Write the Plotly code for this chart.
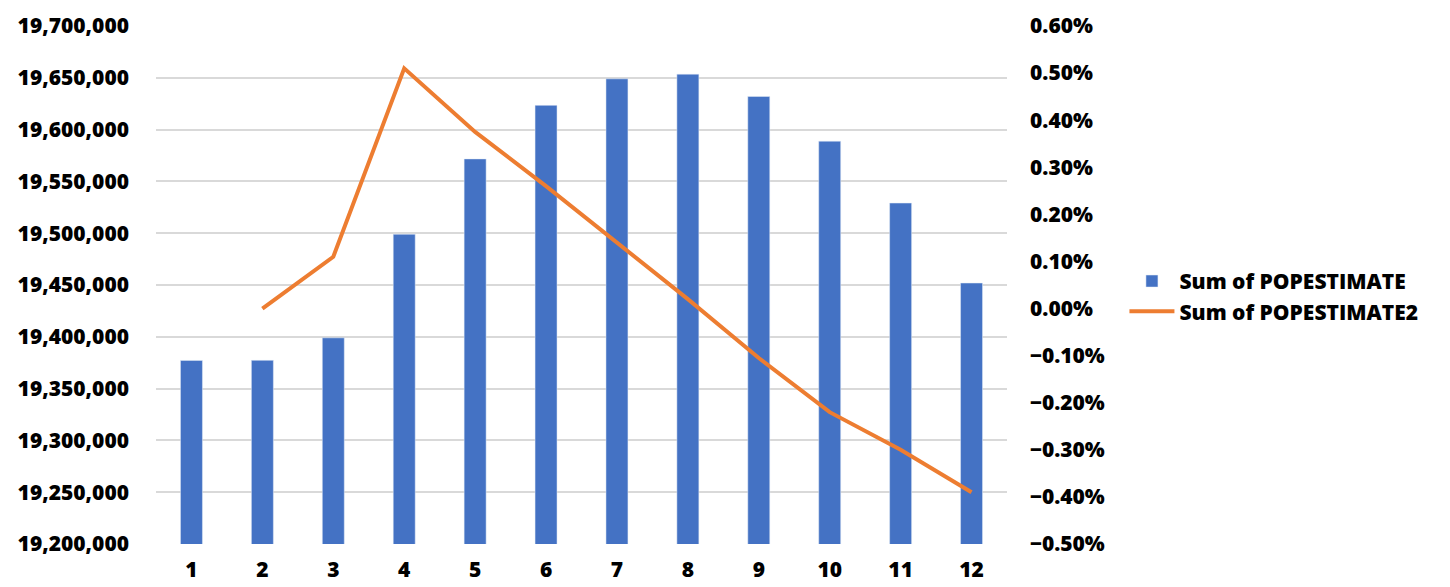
import plotly.graph_objects as go

months = [1, 2, 3, 4, 5, 6, 7, 8, 9, 10, 11, 12]
popestimate = [19377200, 19377300, 19399000, 19499000, 19571700, 19623400,
               19649000, 19653500, 19632000, 19588800, 19529100, 19451900]
# month-over-month change, no value for the first month
popestimate2 = [None, 0.0000, 0.0011, 0.0051, 0.00375, 0.0026,
                0.0014, 0.0002, -0.00105, -0.0022, -0.0030, -0.0039]

left_ticks = list(range(19200000, 19700001, 50000))
right_ticks = [round(-0.005 + i * 0.001, 3) for i in range(12)]

font_family = "Open Sans"
grid = "#d9d9d9"

fig = go.Figure()
fig.add_trace(go.Bar(
    x=months, y=popestimate, name="Sum of POPESTIMATE",
    marker_color="#4472C4", width=0.31,
))
fig.add_trace(go.Scatter(
    x=months, y=popestimate2, name="Sum of POPESTIMATE2", yaxis="y2",
    mode="lines", line=dict(color="#ED7D31", width=4),
))

# page body adds 8px above/left of the plot div, so offset the figure for it
fig.update_layout(
    width=1434, height=579,
    margin=dict(l=147.5, r=434.5, t=17.5, b=42.7, autoexpand=False),
    paper_bgcolor="white", plot_bgcolor="white",
    font=dict(family=font_family, color="black", size=21, weight=800),
    showlegend=True,
    legend=dict(
        x=1.138, y=0.478, xanchor="left", yanchor="middle",
        font=dict(size=21, weight=800), itemwidth=45,
        tracegroupgap=0,
    ),
    xaxis=dict(
        type="category", tickvals=months, ticktext=[str(m) for m in months],
        showgrid=False, zeroline=False, showline=False, ticks="",
        ticklabelstandoff=11, automargin=False,
        tickfont=dict(size=21, weight=800),
    ),
    yaxis=dict(
        range=[19200000, 19700000], tickvals=left_ticks, tickformat=",",
        showgrid=True, gridcolor=grid, gridwidth=2, zeroline=False,
        showline=False, ticks="", ticklabelstandoff=26, automargin=False,
        tickfont=dict(size=21, weight=800),
    ),
    yaxis2=dict(
        overlaying="y", side="right", range=[-0.005, 0.006],
        tickvals=right_ticks, tickformat=".2%",
        showgrid=False, zeroline=False, showline=False, ticks="",
        ticklabelstandoff=22, automargin=False,
        tickfont=dict(size=21, weight=800),
    ),
)

fig.write_html("out.html")
